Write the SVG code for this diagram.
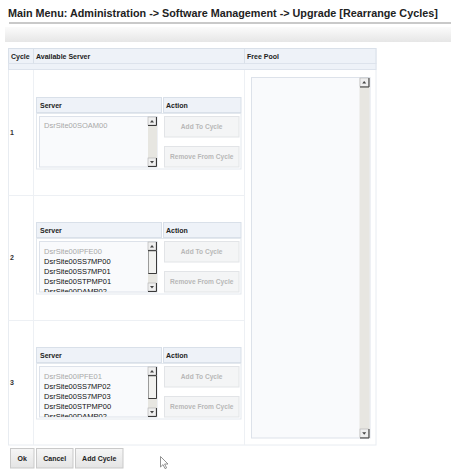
<svg xmlns="http://www.w3.org/2000/svg" width="451" height="470" viewBox="0 0 451 470">
<defs>
<style>
text{font-family:"Liberation Sans",Arial,sans-serif}
.title{font-size:10.8px;font-weight:bold;fill:#222}
.th{font-size:7px;font-weight:bold;fill:#222}
.num{font-size:7px;font-weight:bold;fill:#333}
.hdr{fill:#eef2f8;stroke:#d9e0e9;stroke-width:1}
.band{fill:#eef2f8;stroke:#dde3ec;stroke-width:1}
.cell{fill:#fff;stroke:#e8ecf1;stroke-width:1}
.ibody{fill:#fff;stroke:#e3e8ee;stroke-width:1}
.list{fill:#f9fafc;stroke:#dde2ea;stroke-width:1}
.track{fill:#e7e6e1}
.arw{fill:#efefef;stroke:#b0b0b0;stroke-width:0.6}
.arwd{fill:none;stroke:#3a3a3a;stroke-width:1}
.tri{fill:#444}
.thumb{fill:#f2f2f0;stroke:#666;stroke-width:0.6}
.dbtn{fill:#f4f5f6;stroke:#e2e4e7;stroke-width:1}
.dbt{font-size:6.6px;font-weight:bold;fill:#b8b8b8}
.item{font-size:7.5px;fill:#111}
.itemg{font-size:7.5px;fill:#a8a8a8}
.bbtn{fill:url(#bg);stroke:#c9c9c9;stroke-width:1}
.bbt{font-size:7px;font-weight:bold;fill:#222}
</style>
<linearGradient id="tb" x1="0" y1="0" x2="0" y2="1"><stop offset="0" stop-color="#fbfbfb"/><stop offset="1" stop-color="#e6e6e6"/></linearGradient>
<linearGradient id="bg" x1="0" y1="0" x2="0" y2="1"><stop offset="0" stop-color="#f6f6f6"/><stop offset="1" stop-color="#e4e4e4"/></linearGradient>
<clipPath id="c2" clipPathUnits="userSpaceOnUse"><rect x="40" y="242" width="107" height="50"/></clipPath>
<clipPath id="c3" clipPathUnits="userSpaceOnUse"><rect x="40" y="367" width="107" height="50"/></clipPath>
</defs>
<rect width="451" height="470" fill="#fff"/>

<g id="title">
<text class="title" x="8" y="17">Main Menu: Administration -&gt; Software Management -&gt; Upgrade [Rearrange Cycles]</text>
<rect x="9" y="22" width="442" height="2" fill="#c9c9c9"/>
</g>

<g id="toolbar"><rect x="5" y="27" width="446" height="15" fill="url(#tb)"/></g>

<g id="table">
<rect class="cell" x="8.5" y="48.5" width="367.5" height="396.5"/>
<rect class="hdr" x="8.5" y="48.5" width="367.5" height="15"/>
<rect class="band" x="8.5" y="63.5" width="367.5" height="6"/>
<line x1="33.5" y1="48.5" x2="33.5" y2="63.5" stroke="#d9e0e9"/>
<line x1="244.5" y1="48.5" x2="244.5" y2="63.5" stroke="#d9e0e9"/>
<line x1="33.5" y1="70" x2="33.5" y2="445" stroke="#edf0f4"/>
<line x1="244.5" y1="70" x2="244.5" y2="445" stroke="#edf0f4"/>
<line x1="8.5" y1="195.5" x2="244.5" y2="195.5" stroke="#edf0f4"/>
<line x1="8.5" y1="320.5" x2="244.5" y2="320.5" stroke="#edf0f4"/>
<text class="th" x="11" y="58.5">Cycle</text>
<text class="th" x="36" y="58.5">Available Server</text>
<text class="th" x="247" y="58.5">Free Pool</text>
</g>

<g id="cycle1">
<text class="num" x="10" y="135">1</text>
<rect class="hdr" x="36.5" y="97.5" width="125" height="15"/>
<rect class="hdr" x="163.5" y="97.5" width="77.5" height="15"/>
<text class="th" x="40" y="107.5">Server</text>
<text class="th" x="166" y="107.5">Action</text>
<rect class="ibody" x="36.5" y="113.5" width="204.5" height="55.5"/>
<rect class="list" x="39.5" y="116.5" width="117.5" height="50.5"/>
<rect class="track" x="148" y="117" width="9" height="49.5"/>
<rect class="arw" x="148" y="117" width="8" height="8"/><path class="arwd" d="M148,125.5H156.5V117"/><path class="tri" d="M150,122.5h4l-2,-2.5z"/>
<rect class="arw" x="148" y="158" width="8" height="8"/><path class="arwd" d="M148,166.5H156.5V158"/><path class="tri" d="M150,161h4l-2,2.5z"/>
<text class="itemg" x="44" y="128">DsrSite00SOAM00</text>
<rect class="dbtn" x="164.5" y="116.5" width="74.5" height="20.5"/>
<text class="dbt" x="201.7" y="129" text-anchor="middle">Add To Cycle</text>
<rect class="dbtn" x="164.5" y="146.5" width="74.5" height="20.5"/>
<text class="dbt" x="201.7" y="159" text-anchor="middle">Remove From Cycle</text>
</g>

<g id="cycle2">
<text class="num" x="10" y="260">2</text>
<rect class="hdr" x="36.5" y="222.5" width="125" height="15"/>
<rect class="hdr" x="163.5" y="222.5" width="77.5" height="15"/>
<text class="th" x="40" y="232.5">Server</text>
<text class="th" x="166" y="232.5">Action</text>
<rect class="ibody" x="36.5" y="238.5" width="204.5" height="55.5"/>
<rect class="list" x="39.5" y="241.5" width="117.5" height="50.5"/>
<rect class="track" x="148" y="242" width="9" height="49.5"/>
<rect class="arw" x="148" y="242" width="8" height="8"/><path class="arwd" d="M148,250.5H156.5V242"/><path class="tri" d="M150,247.5h4l-2,-2.5z"/>
<rect class="thumb" x="148.4" y="251" width="8" height="22.5"/><path class="arwd" d="M148.4,273.5H156.5V251"/>
<rect class="arw" x="148" y="283" width="8" height="8"/><path class="arwd" d="M148,291.5H156.5V283"/><path class="tri" d="M150,286h4l-2,2.5z"/>
<g clip-path="url(#c2)">
<text class="itemg" x="44" y="254">DsrSite00IPFE00</text>
<text class="item" x="44" y="264">DsrSite00SS7MP00</text>
<text class="item" x="44" y="274">DsrSite00SS7MP01</text>
<text class="item" x="44" y="284">DsrSite00STPMP01</text>
<text class="item" x="44" y="294">DsrSite00DAMP02</text>
</g>
<rect class="dbtn" x="164.5" y="241.5" width="74.5" height="20.5"/>
<text class="dbt" x="201.7" y="254" text-anchor="middle">Add To Cycle</text>
<rect class="dbtn" x="164.5" y="271.5" width="74.5" height="20.5"/>
<text class="dbt" x="201.7" y="284" text-anchor="middle">Remove From Cycle</text>
</g>

<g id="cycle3">
<text class="num" x="10" y="385">3</text>
<rect class="hdr" x="36.5" y="347.5" width="125" height="15"/>
<rect class="hdr" x="163.5" y="347.5" width="77.5" height="15"/>
<text class="th" x="40" y="357.5">Server</text>
<text class="th" x="166" y="357.5">Action</text>
<rect class="ibody" x="36.5" y="363.5" width="204.5" height="55.5"/>
<rect class="list" x="39.5" y="366.5" width="117.5" height="50.5"/>
<rect class="track" x="148" y="367" width="9" height="49.5"/>
<rect class="arw" x="148" y="367" width="8" height="8"/><path class="arwd" d="M148,375.5H156.5V367"/><path class="tri" d="M150,372.5h4l-2,-2.5z"/>
<rect class="thumb" x="148.4" y="376" width="8" height="22.5"/><path class="arwd" d="M148.4,398.5H156.5V376"/>
<rect class="arw" x="148" y="408" width="8" height="8"/><path class="arwd" d="M148,416.5H156.5V408"/><path class="tri" d="M150,411h4l-2,2.5z"/>
<g clip-path="url(#c3)">
<text class="itemg" x="44" y="379">DsrSite00IPFE01</text>
<text class="item" x="44" y="389">DsrSite00SS7MP02</text>
<text class="item" x="44" y="399">DsrSite00SS7MP03</text>
<text class="item" x="44" y="409">DsrSite00STPMP00</text>
<text class="item" x="44" y="419">DsrSite00DAMP02</text>
</g>
<rect class="dbtn" x="164.5" y="366.5" width="74.5" height="20.5"/>
<text class="dbt" x="201.7" y="379" text-anchor="middle">Add To Cycle</text>
<rect class="dbtn" x="164.5" y="396.5" width="74.5" height="20.5"/>
<text class="dbt" x="201.7" y="409" text-anchor="middle">Remove From Cycle</text>
</g>

<g id="freepool">
<rect class="list" x="251.5" y="77.5" width="118.5" height="360.5"/>
<rect class="track" x="359.5" y="78" width="10" height="359.5"/>
<rect class="arw" x="360" y="78" width="8.5" height="8.5"/><path class="arwd" d="M360,87H369V78"/><path class="tri" d="M362.2,83.6h4l-2,-2.5z"/>
<rect class="arw" x="360" y="429" width="8.5" height="8.5"/><path class="arwd" d="M360,438H369V429"/><path class="tri" d="M362.2,432.3h4l-2,2.5z"/>
</g>

<g id="buttons">
<rect class="bbtn" x="10.5" y="448.5" width="23.5" height="19.5"/>
<text class="bbt" x="22.2" y="460.5" text-anchor="middle">Ok</text>
<rect class="bbtn" x="36.5" y="448.5" width="36.5" height="19.5"/>
<text class="bbt" x="54.7" y="460.5" text-anchor="middle">Cancel</text>
<rect class="bbtn" x="75.5" y="448.5" width="47.5" height="19.5"/>
<text class="bbt" x="99.2" y="460.5" text-anchor="middle">Add Cycle</text>
</g>

<g id="cursor">
<path d="M160.5,456.5V467L163,464.6L165,468.6L166.6,467.9L164.6,464H168Z" fill="#fff" stroke="#777" stroke-width="0.8" stroke-linejoin="round"/>
</g>
</svg>
